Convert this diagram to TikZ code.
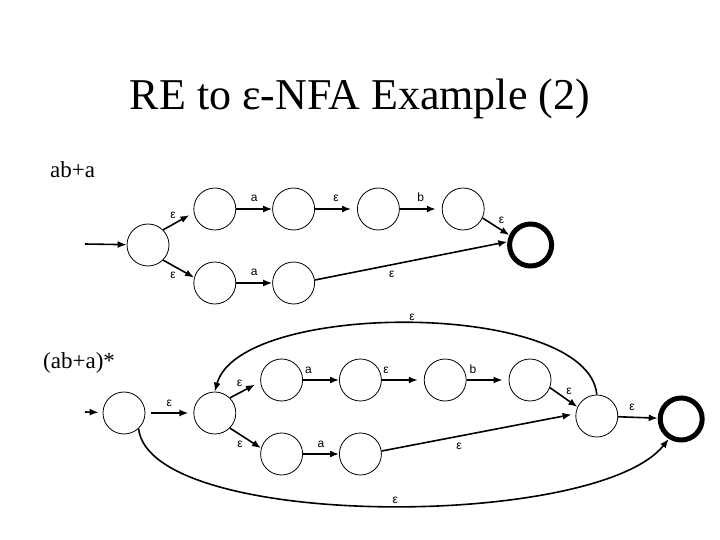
\documentclass[tikz,border=0pt]{standalone}
\usepackage{fontspec}
\setmainfont{Liberation Serif}
\setsansfont{Liberation Sans}
\usetikzlibrary{arrows.meta,positioning}

\begin{document}
\begin{tikzpicture}[
 x=1pt,y=-1pt,
 state/.style={draw,circle,minimum size=42pt,inner sep=0pt,line width=0.8pt},
 accept/.style={state,line width=5pt},
 arr/.style={-{Latex[length=9pt,width=7pt]},line width=1.6pt},
 lbl/.style={font=\sffamily\fontsize{12}{12}\selectfont,inner sep=2pt}
]
\useasboundingbox (0,0) rectangle (720,540);
\node[font=\fontsize{44}{44}\selectfont,anchor=base] (title) at (360,110)
 {RE to ε-NFA Example (2)};
\node[font=\fontsize{23}{23}\selectfont,anchor=base west,inner sep=0pt] (re1)
 at (50,178) {ab+a};
\node[font=\fontsize{23}{23}\selectfont,anchor=base west,inner sep=0pt] (re2)
 at (43,368) {(ab+a)*};
% ab+a
\node[state] (s) at (148,245) {};
\node[state,right=24pt of s,yshift=36pt] (u1) {};
\node[state,right=24pt of s,yshift=-38pt] (l1) {};
\node[state,right=36pt of u1] (u2) {};
\node[state,right=42pt of u2] (u3) {};
\node[state,right=42pt of u3] (u4) {};
\node[state,right=36pt of l1] (l2) {};
\node[accept,right=22.5pt of u4,yshift=-36pt] (f) {};
\coordinate (in1) at (85,244);
\draw[arr] (in1) -- (s);
\draw[arr,shorten >=5pt] (s.45) -- (u1.190) node[lbl,midway,above left] {ε};
\draw[arr] (s.-45) -- (l1.165) node[lbl,midway,below left] {ε};
\draw[arr] (u1) -- (u2) node[lbl,midway,above=5pt] {a};
\draw[arr,shorten >=6pt] (u2) -- (u3) node[lbl,midway,above=5pt] {ε};
\draw[arr,shorten >=6pt] (u3) -- (u4) node[lbl,midway,above=5pt] {b};
\draw[arr] (u4.-25) -- (f.155) node[lbl,midway,above right] {ε};
\draw[arr] (l1) -- (l2) node[lbl,midway,above=5pt] {a};
\draw[arr] (l2.8) -- (f.172) node[lbl,pos=0.4,below=4pt] {ε};
% (ab+a)*
\node[state] (s2) at (124,413) {};
\node[state,right=48pt of s2] (a2) {};
\node[state,right=24pt of a2,yshift=33pt] (u1b) {};
\node[state,right=24pt of a2,yshift=-41pt] (l1b) {};
\node[state,right=36pt of u1b] (u2b) {};
\node[state,right=42pt of u2b] (u3b) {};
\node[state,right=42pt of u3b] (u4b) {};
\node[state,right=36pt of l1b] (l2b) {};
\node[state,right=24pt of u4b,yshift=-36pt] (b2) {};
\node[accept,right=39.5pt of b2,yshift=-3pt] (f2) {};
\coordinate (in2) at (85,412);
\draw[arr,shorten >=4pt] (in2) -- (s2);
\draw[arr,shorten <=6pt,shorten >=5pt] (s2) -- (a2) node[lbl,midway,above=4pt] {ε};
\draw[arr,shorten >=6pt] (a2.45) -- (u1b.185) node[lbl,midway,above left] {ε};
\draw[arr] (a2.-45) -- (l1b.164) node[lbl,midway,below left] {ε};
\draw[arr] (u1b) -- (u2b) node[lbl,pos=0.15,above=4pt] {a};
\draw[arr] (l1b) -- (l2b) node[lbl,midway,above=4pt] {a};
\draw[arr,shorten >=6pt] (u2b) -- (u3b) node[lbl,pos=0.1,above=4pt] {ε};
\draw[arr,shorten >=6pt] (u3b) -- (u4b) node[lbl,pos=0.15,above=4pt] {b};
\draw[arr] (u4b.-21) -- (b2.155) node[lbl,midway,above right] {ε};
\draw[arr,shorten >=4pt] (l2b.8) -- (b2.174) node[lbl,pos=0.4,below=4pt] {ε};
\draw[arr] (b2) -- (f2) node[lbl,pos=0.35,above=4pt] {ε};
\draw[arr] (b2.north) .. controls (588,300) and (240,300) .. (a2.north)
 node[lbl,pos=0.5,above] {ε};
\draw[arr] (s2.-47) .. controls (150,530) and (596,530) .. (f2.238)
 node[lbl,pos=0.52,above] {ε};
\end{tikzpicture}
\end{document}
